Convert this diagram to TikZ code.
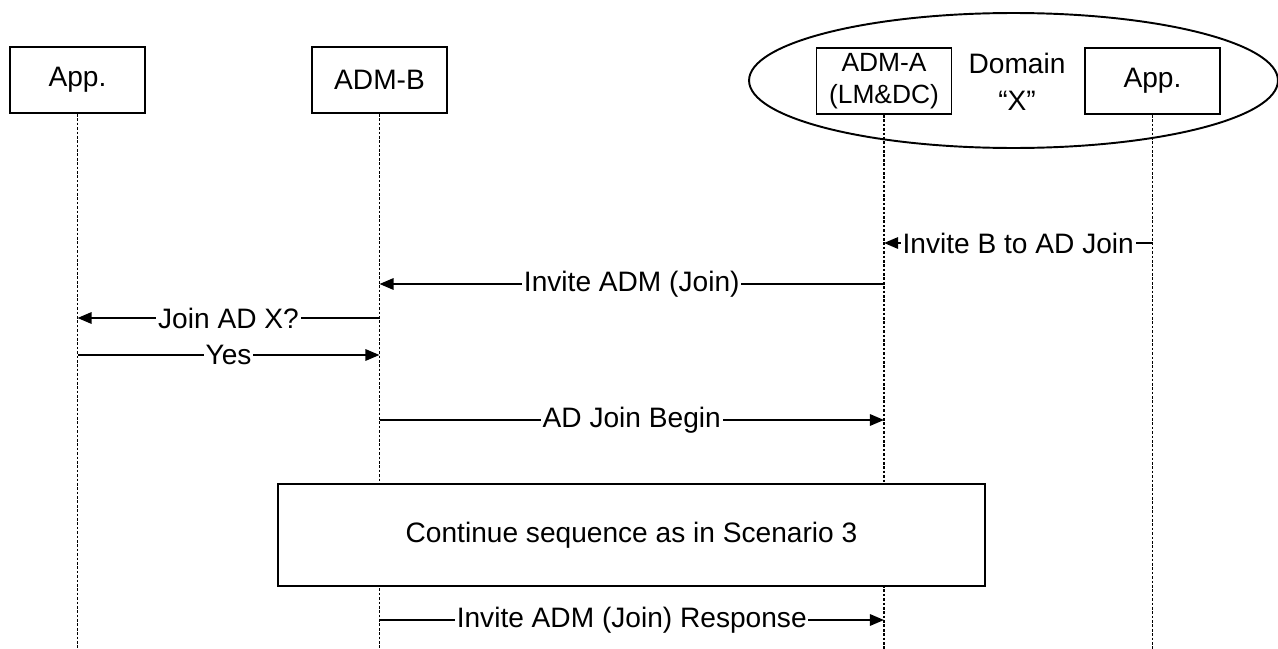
\documentclass[tikz,border=0pt]{standalone}
\usepackage{fontspec}
\setmainfont{Liberation Sans}
\usetikzlibrary{arrows.meta}

\begin{document}
\begin{tikzpicture}[x=0.02cm, y=-0.02cm, >={Triangle[length=8pt,width=6.5pt]}, line width=1pt,
    actor/.style={draw, line width=1.1pt, minimum width=2.7cm, minimum height=1.32cm,
      align=center, inner sep=1pt, font=\fontsize{16}{19}\selectfont},
    lifeline/.style={line width=0.8pt, dash pattern=on 1.5pt off 1pt},
    msgtext/.style={fill=white, inner xsep=1pt, inner ysep=0pt, font=\fontsize{16}{19}\selectfont}]
    \useasboundingbox (0,0) rectangle (1278,649);

    % Domain X
    \draw[line width=1.1pt] (1013.5,80.5) ellipse [x radius=5.29cm, y radius=1.35cm];
    \node[align=center, font=\fontsize{16}{21}\selectfont] (dom) at (1017,82) {Domain\\“X”};

    % Participants
    \node[actor] (appL) at (77.5,80) {App.};
    \node[actor] (admB) at (379.5,80) {ADM-B};
    \node[actor, font=\fontsize{15}{18.5}\selectfont] (admA) at (884,81) {ADM-A\\(LM\&DC)};
    \node[actor] (appR) at (1152.5,81) {App.};

    % Lifelines
    \coordinate (end) at (0,649);
    \draw[lifeline] (appL) -- (appL |- end);
    \draw[lifeline] (admB) -- (admB |- end);
    \draw[lifeline] (admA) -- (admA |- end);
    \draw[lifeline] (appR) -- (appR |- end);

    % Message levels
    \coordinate (m1) at (0,243);
    \coordinate (m2) at (0,284);
    \coordinate (m3) at (0,318);
    \coordinate (m4) at (0,355);
    \coordinate (m5) at (0,420);
    \coordinate (m6) at (0,620);

    % Messages
    \draw[->] (appR |- m1) -- node[msgtext] (t1) {Invite B to AD Join} (admA |- m1);
    \draw[->] (admA |- m2) -- node[msgtext] (t2) {Invite ADM (Join)} (admB |- m2);
    \draw[->] (admB |- m3) -- node[msgtext] (t3) {Join AD X?} (appL |- m3);
    \draw[->] (appL |- m4) -- node[msgtext] (t4) {Yes} (admB |- m4);
    \draw[->] (admB |- m5) -- node[msgtext] (t5) {AD Join Begin} (admA |- m5);

    % Continuation
    \node[draw, fill=white, line width=1.1pt, minimum width=14.14cm, minimum height=2.04cm,
      font=\fontsize{16}{19}\selectfont] (cont) at (631.5,535) {Continue sequence as in Scenario 3};

    \draw[->] (admB |- m6) -- node[msgtext] (t6) {Invite ADM (Join) Response} (admA |- m6);

\end{tikzpicture}
\end{document}
